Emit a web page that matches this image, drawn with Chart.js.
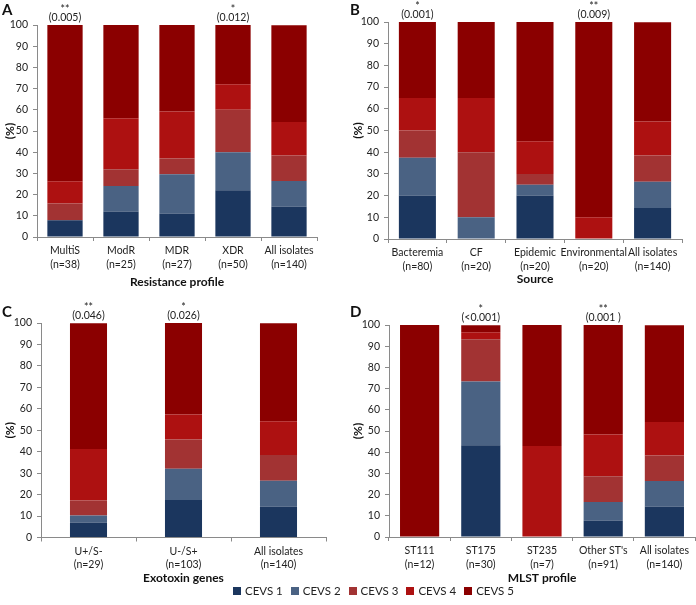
<!DOCTYPE html>
<html>
<head>
<meta charset="utf-8">
<script src="https://cdn.jsdelivr.net/npm/chart.js@4.4.1/dist/chart.umd.min.js"></script>
<style>
  body { margin: 0; background: #fff; width: 696px; height: 605px; position: relative; overflow: hidden; }
  canvas { position: absolute; }
  .letter { position: absolute; font: bold 15px Lato, sans-serif; color: #111; }
  #legend { position: absolute; left: 233px; top: 584px; display: flex; font: 11.5px Lato, sans-serif; color: #222; }
  #legend span { display: flex; align-items: center; margin-right: 8px; }
  #legend i { display: inline-block; width: 8px; height: 8px; margin-right: 4px; }
</style>
</head>
<body>
<canvas id="pA" width="348" height="290" style="left:0;top:0"></canvas>
<canvas id="pB" width="348" height="290" style="left:348px;top:0"></canvas>
<canvas id="pC" width="348" height="300" style="left:0;top:290px"></canvas>
<canvas id="pD" width="348" height="300" style="left:348px;top:290px"></canvas>
<div class="letter" style="left:2px;top:0px">A</div>
<div class="letter" style="left:350px;top:0px">B</div>
<div class="letter" style="left:2px;top:302px">C</div>
<div class="letter" style="left:350px;top:302px">D</div>
<div id="legend"></div>
<script>
const seriesNames = ["CEVS 1", "CEVS 2", "CEVS 3", "CEVS 4", "CEVS 5"];
const seriesColors = ["#1b365e", "#4a6283", "#a23333", "#ad1111", "#8b0000"];

// percentages per group, one row per CEVS series
const resistCats = [["MultiS", "(n=38)"], ["ModR", "(n=25)"], ["MDR", "(n=27)"], ["XDR", "(n=50)"], ["All isolates", "(n=140)"]];
const resistVals = [
  [7.9, 12, 11.1, 22, 14.3],
  [0, 12, 18.5, 18, 12.1],
  [7.9, 8, 7.4, 20, 12.1],
  [10.5, 24, 22.2, 12, 15.7],
  [73.7, 44, 40.8, 28, 45.7]
];
const resistNotes = [["**", "(0.005)"], null, null, ["*", "(0.012)"], null];

const sourceCats = [["Bacteremia", "(n=80)"], ["CF", "(n=20)"], ["Epidemic", "(n=20)"], ["Environmental", "(n=20)"], ["All isolates", "(n=140)"]];
const sourceVals = [
  [20, 0, 20, 0, 14.3],
  [17.5, 10, 5, 0, 12.1],
  [12.5, 30, 5, 0, 12.1],
  [15, 25, 15, 10, 15.7],
  [35, 35, 55, 90, 45.7]
];
const sourceNotes = [["*", "(0.001)"], null, null, ["**", "(0.009)"], null];

const toxinCats = [["U+/S-", "(n=29)"], ["U-/S+", "(n=103)"], ["All isolates", "(n=140)"]];
const toxinVals = [
  [6.9, 17.5, 14.3],
  [3.4, 14.6, 12.1],
  [6.9, 13.6, 12.1],
  [24.1, 11.7, 15.7],
  [58.6, 42.7, 45.7]
];
const toxinNotes = [["**", "(0.046)"], ["*", "(0.026)"], null];

const mlstCats = [["ST111", "(n=12)"], ["ST175", "(n=30)"], ["ST235", "(n=7)"], ["Other ST's", "(n=91)"], ["All isolates", "(n=140)"]];
const mlstVals = [
  [0, 43.3, 0, 7.7, 14.3],
  [0, 30, 0, 8.8, 12.1],
  [0, 20, 0, 12.1, 12.1],
  [0, 3.3, 42.9, 19.8, 15.7],
  [100, 3.3, 57.1, 51.6, 45.7]
];
const mlstNotes = [null, ["*", "(<0.001)"], null, ["**", "(0.001 )"], null];

const FONT = "Lato, sans-serif";

const notePlugin = {
  id: "notes",
  afterDatasetsDraw(chart, args, opts) {
    const { ctx, scales } = chart;
    ctx.save();
    ctx.fillStyle = "#222";
    ctx.textAlign = "center";
    ctx.textBaseline = "middle";
    ctx.font = "10.5px " + FONT;
    opts.notes.forEach((n, i) => {
      if (!n) return;
      const x = scales.x.getPixelForValue(i);
      const y = scales.y.getPixelForValue(100);
      ctx.fillText(n[1], x, y - 7);
      ctx.fillText(n[0], x, y - 15);
    });
    ctx.restore();
  }
};

function makePanel(id, cats, vals, notes, title, g) {
  return new Chart(document.getElementById(id).getContext("2d"), {
    type: "bar",
    data: {
      labels: cats,
      datasets: vals.map((row, k) => ({
        label: seriesNames[k],
        data: row,
        backgroundColor: seriesColors[k],
        borderWidth: 0,
        categoryPercentage: 1,
        barPercentage: g.bar
      }))
    },
    plugins: [notePlugin],
    options: {
      responsive: false,
      animation: false,
      layout: { padding: { top: g.T, right: g.R, left: 0, bottom: g.pb } },
      plugins: { legend: { display: false }, tooltip: { enabled: false }, notes: { notes } },
      scales: {
        x: {
          stacked: true,
          grid: { drawOnChartArea: false, tickLength: 4, color: "#8a8a8a" },
          border: { color: "#8a8a8a" },
          ticks: { color: "#222", font: { size: 10.5, family: FONT, lineHeight: 1.3 }, padding: 3, maxRotation: 0, autoSkip: false },
          title: { display: true, text: title, color: "#111", font: { size: 12, weight: "bold", family: FONT }, padding: 0 },
          afterFit: (s) => { s.height = g.H; }
        },
        y: {
          stacked: true,
          min: 0,
          max: 100,
          grid: { drawOnChartArea: false, tickLength: 4, color: "#8a8a8a" },
          border: { color: "#8a8a8a" },
          ticks: { stepSize: 10, color: "#222", font: { size: 10.5, family: FONT }, padding: 5 },
          title: { display: true, text: "(%)", color: "#111", font: { size: 12, weight: "bold", family: FONT }, padding: { top: 3, bottom: 0 } },
          afterFit: (s) => { s.width = g.L; }
        }
      }
    }
  });
}

makePanel("pA", resistCats, resistVals, resistNotes, "Resistance profile", { L: 37, T: 25, R: 31, pb: 1, H: 52, bar: 0.63 });
makePanel("pB", sourceCats, sourceVals, sourceNotes, "Source", { L: 40, T: 22, R: 14, pb: 4, H: 47, bar: 0.63 });
makePanel("pC", toxinCats, toxinVals, toxinNotes, "Exotoxin genes", { L: 41, T: 33, R: 22, pb: 5, H: 47.5, bar: 0.39 });
makePanel("pD", mlstCats, mlstVals, mlstNotes, "MLST profile", { L: 41, T: 35, R: 1, pb: 5, H: 48, bar: 0.64 });

const legend = document.getElementById("legend");
seriesNames.forEach((name, k) => {
  const s = document.createElement("span");
  s.innerHTML = '<i style="background:' + seriesColors[k] + '"></i>' + name;
  legend.appendChild(s);
});
</script>
</body>
</html>
